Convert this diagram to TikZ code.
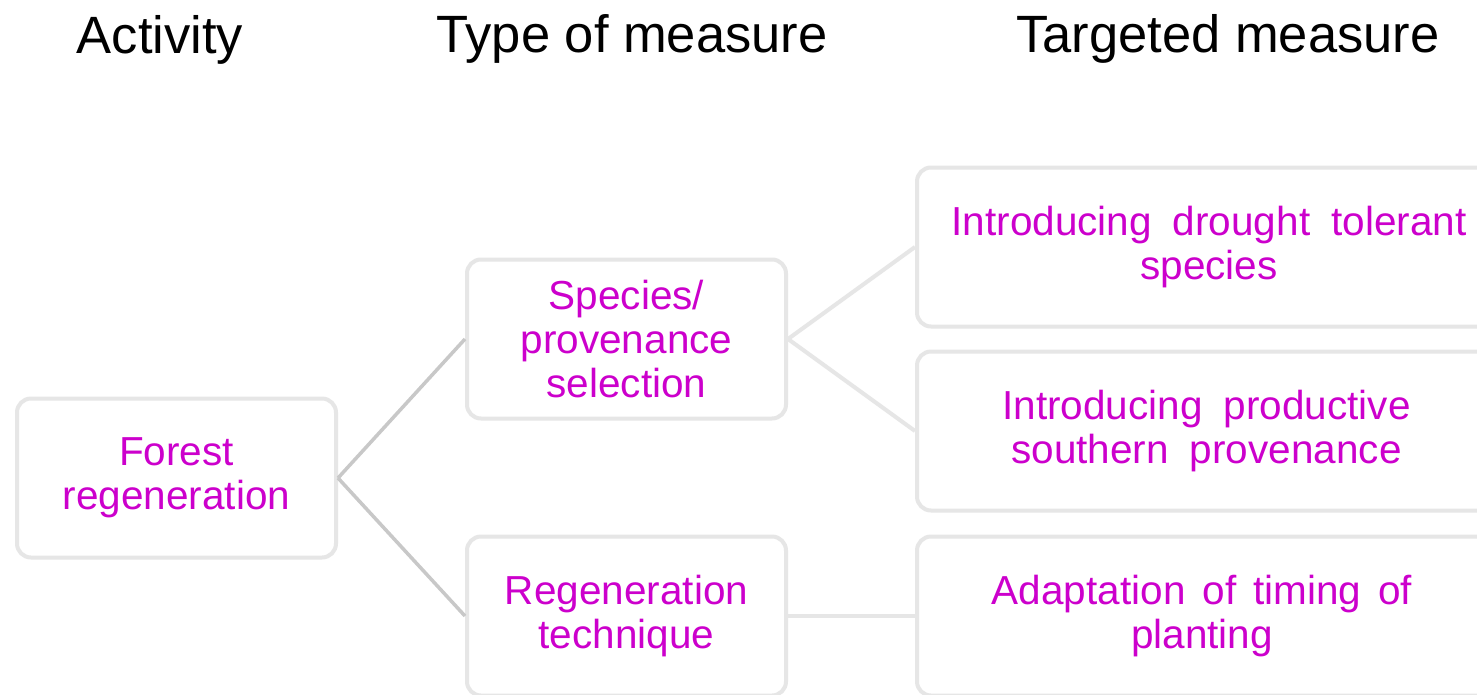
\documentclass[tikz,border=0pt]{standalone}
\usepackage{fontspec}
\setmainfont{Liberation Sans}
\definecolor{txtmag}{HTML}{CC00CC}
\definecolor{boxgray}{HTML}{E6E6E6}
\definecolor{linkdark}{HTML}{C8C8C8}
\newcommand{\padr}[1]{\hspace*{#1}}
\begin{document}
\begin{tikzpicture}[x=1pt,y=-1pt,
  box/.style={draw=boxgray, line width=4pt, rounded corners=14pt, fill=white,
    text=txtmag, font=\fontsize{40.5}{44}\selectfont, align=center, inner sep=0pt,
    minimum width=319pt, minimum height=159pt},
  widebox/.style={box, minimum width=584pt, execute at begin node={\spaceskip=21pt plus 2pt}},
  title/.style={font=\fontsize{52.5}{60}\selectfont, text=black, anchor=base, inner sep=0pt},
  linkA/.style={draw=linkdark, line width=3.5pt},
  linkB/.style={draw=boxgray, line width=4pt}]
\useasboundingbox (0,0) rectangle (1477,694);
\clip (0,0) rectangle (1477,694);
\fill[white] (0,0) rectangle (1477,694);

\node[title] (t1) at (160,53) {Activity};
\node[title] (t2) at (632,52) {Type of measure};
\node[title] (t3) at (1228,52) {Targeted measure};

\node[box] (forest) at (176.5,478) {Forest\\regeneration};
\node[box] (species) at (626.5,339) {Species/\\provenance\\selection};
\node[box] (regen) at (626.5,616) {Regeneration\\technique};
\node[widebox] (drought) at (1209,247) {Introducing drought tolerant\\species};
\node[widebox] (south) at (1209,431) {Introducing productive\padr{5pt}\\southern provenance\padr{5pt}};
\node[widebox, execute at begin node={\spaceskip=17pt plus 2pt}] (timing) at (1209,616) {Adaptation of timing of\padr{14pt}\\planting\padr{14pt}};

\draw[linkA] (forest.east) -- (species.west);
\draw[linkA] (forest.east) -- (regen.west);
\draw[linkB] (species.east) -- (drought.west);
\draw[linkB] (species.east) -- (south.west);
\draw[linkB] (regen.east) -- (timing.west);
\end{tikzpicture}
\end{document}
